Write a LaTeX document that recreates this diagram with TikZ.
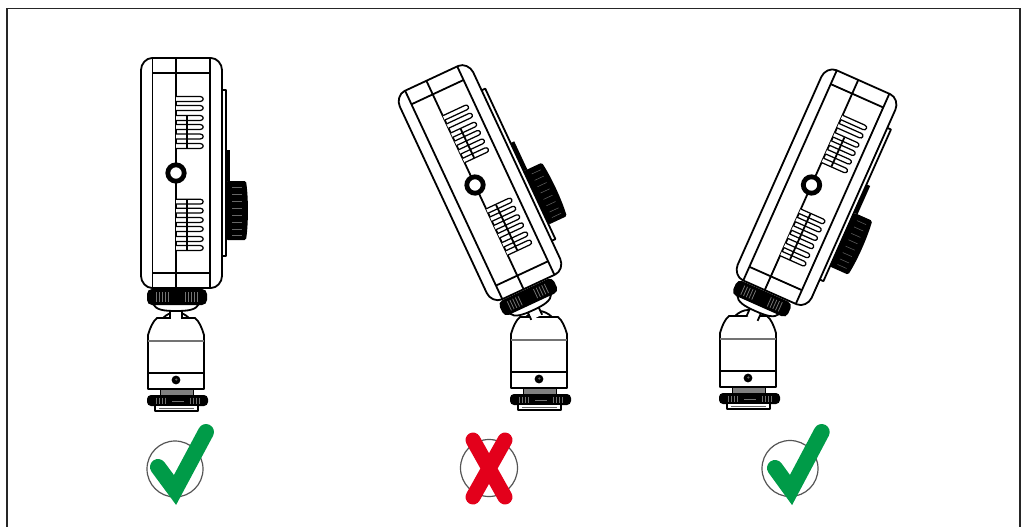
\documentclass[tikz,border=0pt]{standalone}
\definecolor{okgreen}{RGB}{0,155,72}
\definecolor{nored}{RGB}{227,0,27}
\definecolor{ringgray}{RGB}{85,85,85}
\tikzset{
 ln/.style={draw=black,line width=1.8pt,line join=round},
 thinln/.style={draw=black,line width=.9pt},
 graybar/.style={draw=black!55,line width=1.2pt},
 slot/.style={draw=black,line width=1.25pt,fill=white},
 tick/.style={draw=black!55,line width=.8pt},
 device/.pic={
  % back plate, block and dial
  \draw[ln,fill=white] (46,-83) -- (50,-83) -- (50,83) -- (46,83);
  \fill[black] (50,-23) rectangle (54,8);
  \fill[black,rounded corners=1.5pt] (50,8) -- (70,8) .. controls (72.5,25) and (72.5,50) .. (70,67) -- (50,67) -- cycle;
  \foreach \yy in {14,21,28,35,42,49,56,62}{\draw[line width=.5pt,draw=black!60] (56,\yy) -- (66,\yy);}
  % stem and cup
  \fill[white] (-5.4,132) rectangle (5.4,146);
  \draw[ln] (-6,132) -- (-6,146) (6,146) -- (6,132);
  \draw[ln,fill=white] (-23,131) .. controls (-20,137) and (-12,138) .. (0,138) .. controls (12,138) and (20,137) .. (23,131);
  % collar
  \fill[black,rounded corners=5pt] (-29,116) rectangle (31,132);
  \foreach \xx in {-20,-17,-14,-11,-8,9,12,15,18,21}{\draw[tick] (\xx,119) -- (\xx,129);}
  % body
  \draw[ln,fill=white] (-24,-115) -- (35,-115) .. controls (41,-115) and (46,-109) .. (46,-103) -- (46,103)
     .. controls (46,109) and (41,115) .. (35,115) -- (-24,115) .. controls (-30,115) and (-35,109) .. (-35,103)
     -- (-35,-103) .. controls (-35,-109) and (-30,-115) .. (-24,-115) -- cycle;
  \draw[ln] (-23.5,-115) -- (-23.5,115);
  \draw[ln] (34,-115) -- (34,115);
  \draw[ln] (-23.5,-100) -- (34,-100);
  \draw[ln] (-23.5,100) -- (34,100);
  \draw[ln] (0,-115) -- (0,115);
  % slots
  \foreach \yy in {-74,-65,-55,-46,-36.5,-27,28.7,37.7,47,56,66,75}{
    \draw[slot] (0,\yy-2.4) -- (24.5,\yy-2.4) .. controls (28,\yy-2.4) and (28,\yy+2.4) .. (24.5,\yy+2.4) -- (0,\yy+2.4);
  }
  \draw[ln] (10.7,-57) -- (10.7,-25);
  \draw[ln] (10.7,27) -- (10.7,77);
  % screw hole
  \draw[draw=black,fill=white,line width=4.8pt] (0,0) circle[radius=8.2];
 },
 mount/.pic={
  % ball
  \draw[ln,fill=white] (-13,0) .. controls (-9,-4) and (-4,-6) .. (0,-6) .. controls (4,-6) and (9,-4) .. (13,0);
  % dome and base
  \draw[ln,fill=white] (-19,0) -- (19,0) .. controls (23,3) and (26,10) .. (28,17) -- (28,71) -- (-28,71) -- (-28,17)
     .. controls (-26,10) and (-23,3) .. (-19,0) -- cycle;
  \draw[graybar] (-28,23) -- (28,23);
  \draw[draw=black,line width=2.8pt] (-28,55) -- (28,55);
  \fill[black] (0,62) circle[radius=4.4];
  \fill[black!60] (0.3,61.5) circle[radius=1.2];
  % neck
  \fill[black!50] (-16,72) rectangle (17,77);
  \draw[thinln] (-16,72) -- (-16,77) (17,72) -- (17,77);
  % knob
  \fill[black,rounded corners=4pt] (-29,77) rectangle (32,88);
  \foreach \xx in {-20,-17,-14,-11,14,17,20,23}{\draw[tick] (\xx,79.5) -- (\xx,85.5);}
  \draw[tick,line width=.8pt] (-4,83) -- (8,83);
  % shoe
  \draw[ln,fill=white] (-21,88) -- (-21,93) -- (22,93) -- (22,88);
  \draw[draw=black!60,line width=.8pt] (-17,90.5) -- (18,90.5);
 },
 ringmark/.style={draw=ringgray,line width=1.2pt},
 goodstroke/.style={draw=okgreen,line width=16pt,line cap=round,line join=miter},
 badstroke/.style={draw=nored,line width=15pt,line cap=round},
}
\begin{document}
\begin{tikzpicture}[x=1pt,y=-1pt]
\useasboundingbox (0,0) rectangle (1022,527);
\fill[white] (0,0) rectangle (1022,527);
\draw[draw=black!85,line width=1.6pt] (7,527) -- (7,8.5) -- (1020,8.5) -- (1020,527);

\pic at (176,318) {mount};
\pic at (176,173) {device};
\pic at (539,317) {mount};
\pic[rotate=25] at (475,185) {device};
\pic at (748,316) {mount};
\pic[rotate=-24] at (811.5,185) {device};

\draw[ringmark] (175,469) circle[radius=28];
\draw[goodstroke] (158,467) -- (175,490) -- (206,432);
\draw[ringmark] (489,468) circle[radius=28.5];
\draw[badstroke] (473,440) -- (505,497);
\draw[badstroke] (505,440) -- (473,497);
\draw[ringmark] (790,468.5) circle[radius=28];
\draw[goodstroke] (775,468) -- (791,490) -- (821.7,432);
\end{tikzpicture}
\end{document}
